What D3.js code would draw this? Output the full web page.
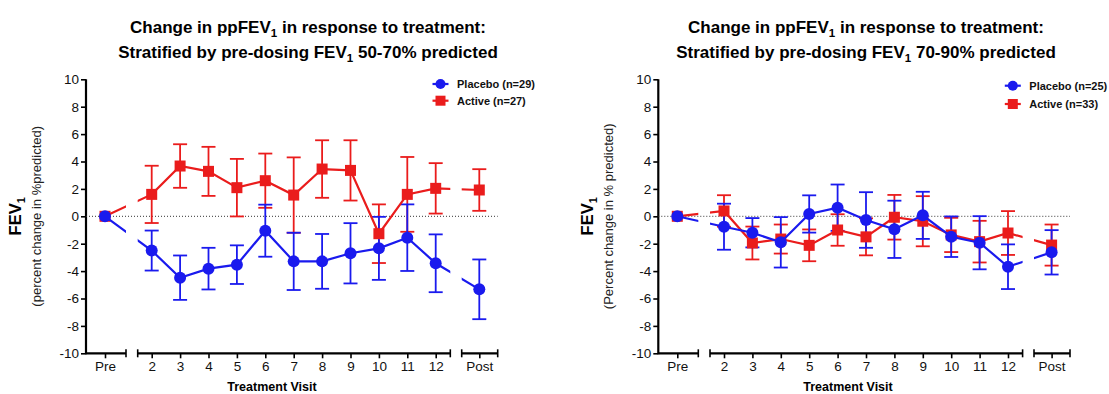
<!DOCTYPE html>
<html>
<head>
<meta charset="utf-8">
<script src="https://cdn.jsdelivr.net/npm/d3@7"></script>
<style>
  body { margin: 0; background: #fff; }
  svg { display: block; font-family: "Liberation Sans", Arial, sans-serif; }
</style>
</head>
<body>
<svg id="chart" width="1109" height="394"></svg>
<script>
// visits on the x axis (Pre, treatment visits 2-12, Post)
const visits = ["Pre", "2", "3", "4", "5", "6", "7", "8", "9", "10", "11", "12", "Post"];
const yTicks = [-10, -8, -6, -4, -2, 0, 2, 4, 6, 8, 10];

// FEV1 50-70% predicted
const placeboLow = [0, -2.5, -4.48, -3.82, -3.53, -1.05, -3.29, -3.29, -2.7, -2.34, -1.56, -3.43, -5.33];
const placeboLowErr = [0, 1.46, 1.62, 1.52, 1.41, 1.9, 2.09, 2.0, 2.2, 2.3, 2.43, 2.11, 2.18];
const activeLow = [0, 1.6, 3.67, 3.28, 2.09, 2.6, 1.55, 3.45, 3.35, -1.27, 1.6, 2.04, 1.92];
const activeLowErr = [0, 2.09, 1.59, 1.79, 2.1, 1.98, 2.75, 2.1, 2.2, 2.14, 2.73, 1.84, 1.52];

// FEV1 70-90% predicted
const placeboHigh = [0, -0.76, -1.2, -1.9, 0.17, 0.63, -0.27, -0.95, 0.07, -1.49, -1.93, -3.68, -2.63];
const placeboHighErr = [0, 1.68, 1.07, 1.84, 1.36, 1.69, 2.03, 2.09, 1.72, 1.48, 1.94, 1.63, 1.62];
const activeHigh = [0, 0.39, -1.95, -1.66, -2.12, -1.0, -1.5, -0.07, -0.36, -1.36, -1.85, -1.22, -2.1];
const activeHighErr = [0, 1.15, 1.2, 1.06, 1.16, 1.15, 1.35, 1.63, 1.83, 1.25, 1.52, 1.6, 1.5];

const BLUE = "#1a1aee";
const RED = "#ea1c1c";

const svg = d3.select("#chart");

const panels = [
    {
        left: 86, titleX: 308, xLabelX: 272,
        range: "50-70% predicted",
        ySub: "(percent change in %predicted)",
        placebo: placeboLow, placeboErr: placeboLowErr,
        active: activeLow, activeErr: activeLowErr,
        legend: ["Placebo (n=29)", "Active (n=27)"], legendY: [84, 100.7]
    },
    {
        left: 658.3, titleX: 866, xLabelX: 848,
        range: "70-90% predicted",
        ySub: "(Percent change in % predicted)",
        placebo: placeboHigh, placeboErr: placeboHighErr,
        active: activeHigh, activeErr: activeHighErr,
        legend: ["Placebo (n=25)", "Active (n=33)"], legendY: [85.7, 104]
    }
];

// broken x axis: pixel spans of the three pieces, relative to the y axis
const segments = [[0, 40], [51.7, 364.3], [375.7, 411.7]];

const drawPanel = (p, idx) => {
    const g = svg.append("g").attr("transform", `translate(${p.left},0)`);

    const y = d3.scaleLinear().domain([-10, 10]).range([353.3, 79.3]);
    const x = d3.scaleLinear().domain([0, 1, 11, 12]).range([19, 65.7, 349.7, 393.3]);

    // title
    const t = svg.append("text")
        .attr("x", p.titleX).attr("y", 33)
        .attr("text-anchor", "middle")
        .attr("font-size", 17).attr("font-weight", "bold");
    t.append("tspan").text("Change in ppFEV");
    t.append("tspan").attr("font-size", 11.5).attr("dy", 4).text("1");
    t.append("tspan").attr("dy", -4).text(" in response to treatment:");
    const t2 = svg.append("text")
        .attr("x", p.titleX).attr("y", 58)
        .attr("text-anchor", "middle")
        .attr("font-size", 17).attr("font-weight", "bold");
    t2.append("tspan").text("Stratified by pre-dosing FEV");
    t2.append("tspan").attr("font-size", 11.5).attr("dy", 4).text("1");
    t2.append("tspan").attr("dy", -4).text(" " + p.range);

    // y axis
    const yAxis = g.append("g")
        .call(d3.axisLeft(y).tickValues(yTicks).tickFormat(d => String(d)).tickSize(5).tickPadding(2));
    yAxis.select(".domain").attr("stroke", "#000").attr("stroke-width", 2.2)
        .attr("d", `M0,${y(10)}V${y(-10) + 1}`);
    yAxis.selectAll(".tick line").attr("stroke-width", 1.6);
    yAxis.selectAll(".tick text").attr("font-size", 13.5).attr("fill", "#111")
        .attr("font-family", "Liberation Sans, Arial, sans-serif");

    // y labels
    const yl = g.append("text")
        .attr("transform", `translate(-65,${y(0)}) rotate(-90)`)
        .attr("text-anchor", "middle")
        .attr("font-size", 16.5).attr("font-weight", "bold");
    yl.append("tspan").text("FEV");
    yl.append("tspan").attr("font-size", 11).attr("dy", 4).text("1");
    g.append("text")
        .attr("transform", `translate(-45,${y(0)}) rotate(-90)`)
        .attr("text-anchor", "middle")
        .attr("font-size", 13).attr("fill", "#222")
        .text(p.ySub);

    // x axis pieces
    const xAxis = g.append("g").attr("transform", `translate(0,${y(-10)})`)
        .call(d3.axisBottom(x).tickValues(d3.range(visits.length))
            .tickFormat(i => visits[i]).tickSize(5).tickPadding(3));
    xAxis.select(".domain").remove();
    xAxis.selectAll(".tick line").attr("stroke-width", 1.6);
    xAxis.selectAll(".tick text").attr("font-size", 13.5).attr("fill", "#111")
        .attr("font-family", "Liberation Sans, Arial, sans-serif");
    segments.forEach(([a, b], k) => {
        xAxis.append("line").attr("x1", a).attr("x2", b)
            .attr("stroke", "#000").attr("stroke-width", 2.2);
        if (k > 0) xAxis.append("line").attr("x1", a).attr("x2", a).attr("y1", -4).attr("y2", 4)
            .attr("stroke", "#000").attr("stroke-width", 1.6);
        xAxis.append("line").attr("x1", b).attr("x2", b).attr("y1", -4).attr("y2", 4)
            .attr("stroke", "#000").attr("stroke-width", 1.6);
    });

    g.append("text")
        .attr("x", p.xLabelX - p.left).attr("y", 391)
        .attr("text-anchor", "middle")
        .attr("font-size", 12.5).attr("font-weight", "bold")
        .text("Treatment Visit");

    // zero reference line
    g.append("line")
        .attr("x1", 0).attr("x2", segments[2][1])
        .attr("y1", y(0)).attr("y2", y(0))
        .attr("stroke", "#333").attr("stroke-width", 1)
        .attr("stroke-dasharray", "1,2");

    // clip lines to the axis pieces (gap at the breaks)
    const clipId = `clip${idx}`;
    const cp = g.append("clipPath").attr("id", clipId);
    segments.forEach(([a, b]) => {
        cp.append("rect").attr("x", a).attr("y", 0)
            .attr("width", b - a).attr("height", 394);
    });

    const series = [
        { vals: p.active, errs: p.activeErr, color: RED, shape: "square" },
        { vals: p.placebo, errs: p.placeboErr, color: BLUE, shape: "circle" }
    ];

    // error bars
    series.forEach(s => {
        const eb = g.append("g").attr("stroke", s.color).attr("stroke-width", 1.8).attr("fill", "none");
        s.vals.forEach((v, i) => {
            if (!s.errs[i]) return;
            const cx = x(i), top = y(v + s.errs[i]), bot = y(v - s.errs[i]);
            eb.append("line").attr("x1", cx).attr("x2", cx).attr("y1", top).attr("y2", bot);
            eb.append("line").attr("x1", cx - 7).attr("x2", cx + 7).attr("y1", top).attr("y2", top);
            eb.append("line").attr("x1", cx - 7).attr("x2", cx + 7).attr("y1", bot).attr("y2", bot);
        });
    });

    const line = d3.line().x((d, i) => x(i)).y(d => y(d));

    series.forEach(s => {
        g.append("path")
            .attr("d", line(s.vals))
            .attr("fill", "none").attr("stroke", s.color).attr("stroke-width", 2.2)
            .attr("clip-path", `url(#${clipId})`);
        const m = g.append("g").attr("fill", s.color);
        if (s.shape === "circle") {
            m.selectAll("circle").data(s.vals).enter().append("circle")
                .attr("cx", (d, i) => x(i)).attr("cy", d => y(d)).attr("r", 6);
        } else {
            m.selectAll("rect").data(s.vals).enter().append("rect")
                .attr("x", (d, i) => x(i) - 5.5).attr("y", d => y(d) - 5.5)
                .attr("width", 11).attr("height", 11);
        }
    });

    // legend
    const lg = g.append("g");
    [{ c: BLUE, shape: "circle" }, { c: RED, shape: "square" }].forEach((it, k) => {
        const ly = p.legendY[k];
        lg.append("line").attr("x1", 346.5).attr("x2", 362.5).attr("y1", ly).attr("y2", ly)
            .attr("stroke", it.c).attr("stroke-width", 2.2);
        if (it.shape === "circle") {
            lg.append("circle").attr("cx", 354.5).attr("cy", ly).attr("r", 5).attr("fill", it.c);
        } else {
            lg.append("rect").attr("x", 349.5).attr("y", ly - 5).attr("width", 10).attr("height", 10).attr("fill", it.c);
        }
        lg.append("text").attr("x", 371).attr("y", ly + 4)
            .attr("font-size", 11).attr("font-weight", "bold").attr("fill", "#111")
            .text(p.legend[k]);
    });
};

panels.forEach(drawPanel);
</script>
</body>
</html>
